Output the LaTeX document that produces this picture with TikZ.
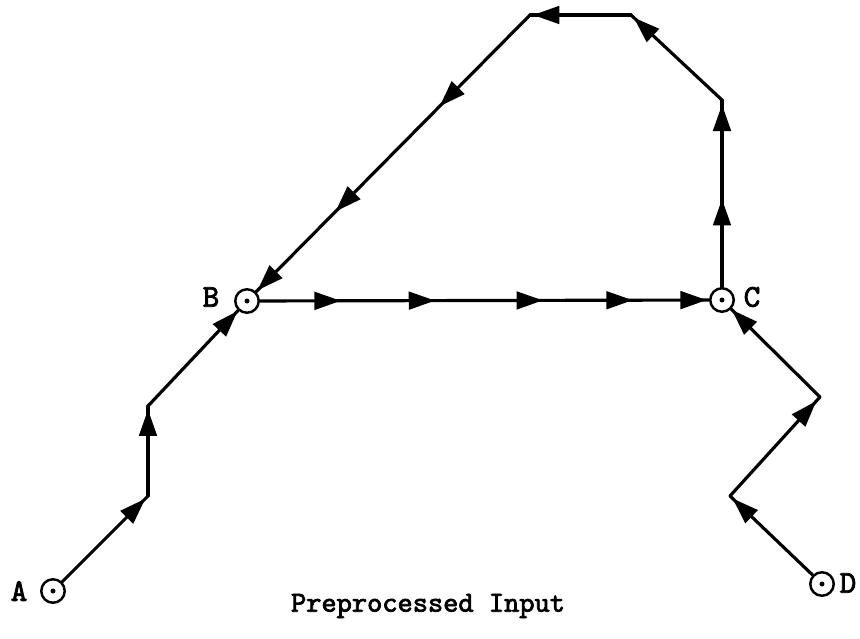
\documentclass[tikz,border=0pt]{standalone}
\usepackage{fontspec}
\setmonofont{lmmono10-regular.otf}[AutoFakeBold=2.5]
\usetikzlibrary{arrows.meta,decorations.markings}

\begin{document}
\begin{tikzpicture}[
  x=0.02cm, y=-0.02cm,
  stn/.style={draw, circle, line width=1.4pt, minimum size=0.47cm, inner sep=0pt,
              fill=white,
              path picture={\fill[black] (path picture bounding box.center) circle (0.05cm);}},
  lbl/.style={font=\ttfamily\bfseries\fontsize{18}{20}\selectfont},
  capt/.style={font=\ttfamily\bfseries\fontsize{16.5}{18}\selectfont},
  wire/.style={line width=1.8pt, line cap=round},
  arr/.style={postaction={decorate, decoration={markings,
              mark=at position #1 with {\arrow{Triangle[length=15pt,width=10pt]}}}}}
]
\useasboundingbox (0,0) rectangle (860,639);

%% ── Bend points ───────────────────────────────────────────────────────────
\coordinate (a1) at (148,496);
\coordinate (a2) at (148,406);
\coordinate (c1) at (722,100);
\coordinate (c2) at (631,15);
\coordinate (c3) at (530,15);
\coordinate (d1) at (730,496);
\coordinate (d2) at (820,397);

%% ── Stations and their letters ────────────────────────────────────────────
\node[stn] (A) at (53,591)  {};
\node[stn] (B) at (247,301) {};
\node[stn] (C) at (722,300) {};
\node[stn] (D) at (822,584) {};
\node[lbl] (labA) at (19,591)  {A};
\node[lbl] (labB) at (211,297) {B};
\node[lbl] (labC) at (752,297) {C};
\node[lbl] (labD) at (848,583) {D};

%% ── From A up to B ────────────────────────────────────────────────────────
\draw[wire, arr=0.97]  (A)  -- (a1);
\draw[wire, arr=0.96]  (a1) -- (a2);
\draw[wire, arr=0.995] (a2) -- (B);

% B across to C
\draw[wire, arr/.list={0.18,0.39,0.63,0.83,0.995}] (B) -- (C);

% C round the top and back down to B
\draw[wire, arr/.list={0.47,0.975}] (C) -- (c1);
\draw[wire, arr=0.97] (c1) -- (c2);
\draw[wire, arr=0.97] (c2) -- (c3);
\draw[wire, arr/.list={0.33,0.71,0.995}] (c3) -- (B);

%% ── From D up to C ────────────────────────────────────────────────────────
\draw[wire, arr=0.97]  (D)  -- (d1);
\draw[wire, arr=0.96]  (d1) -- (d2);
\draw[wire, arr=0.995] (d2) -- (C);

\node[capt] (title) at (428,606) {Preprocessed Input};

\end{tikzpicture}
\end{document}
